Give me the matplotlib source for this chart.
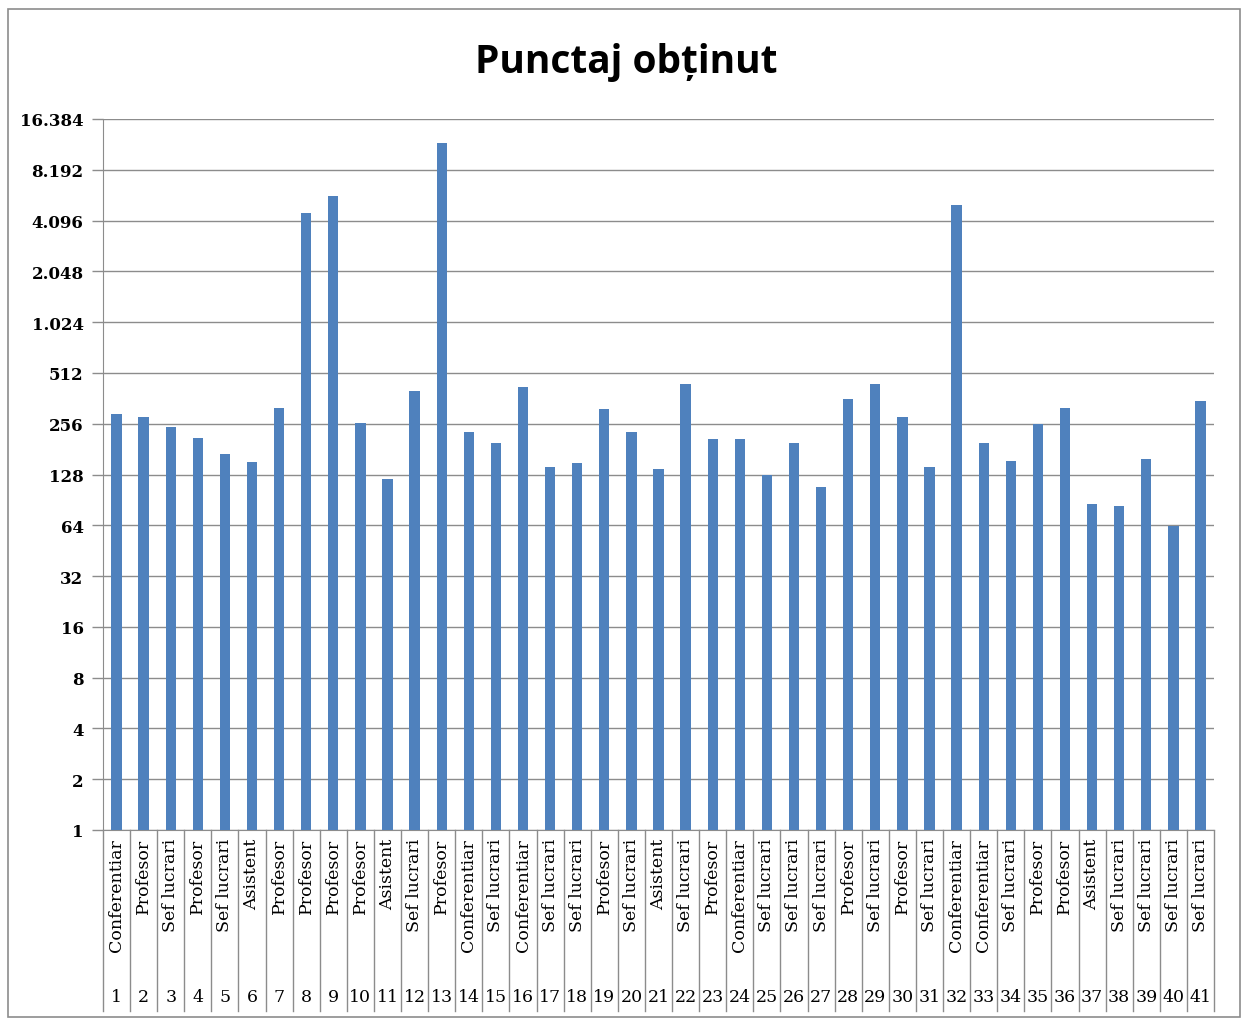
import matplotlib.pyplot as plt
from matplotlib.patches import Rectangle
from matplotlib.ticker import FixedLocator, FuncFormatter, NullLocator
import matplotlib.transforms as mtransforms

titles = ['Conferentiar', 'Profesor', 'Sef lucrari', 'Profesor', 'Sef lucrari',
          'Asistent', 'Profesor', 'Profesor', 'Profesor', 'Profesor',
          'Asistent', 'Sef lucrari', 'Profesor', 'Conferentiar', 'Sef lucrari',
          'Conferentiar', 'Sef lucrari', 'Sef lucrari', 'Profesor', 'Sef lucrari',
          'Asistent', 'Sef lucrari', 'Profesor', 'Conferentiar', 'Sef lucrari',
          'Sef lucrari', 'Sef lucrari', 'Profesor', 'Sef lucrari', 'Profesor',
          'Sef lucrari', 'Conferentiar', 'Conferentiar', 'Sef lucrari', 'Profesor',
          'Profesor', 'Asistent', 'Sef lucrari', 'Sef lucrari', 'Sef lucrari',
          'Sef lucrari']
numbers = list(range(1, 42))
scores = [292, 280, 244, 210, 169, 151, 317, 4540, 5720, 258,
          120, 399, 11760, 228, 197, 422, 142, 149, 313, 228,
          138, 440, 208, 208, 127, 197, 108, 357, 440, 280,
          142, 5050, 197, 154, 254, 317, 85, 83, 158, 63,
          348]
yticks = [1, 2, 4, 8, 16, 32, 64, 128, 256, 512, 1024, 2048, 4096, 8192, 16384]

fig = plt.figure(figsize=(12.42, 10.2), dpi=100)
fig.patches.append(Rectangle((8 / 1242, 2 / 1020), 1232 / 1242, 1008 / 1020,
                             transform=fig.transFigure, fill=False,
                             edgecolor='#8c8c8c', linewidth=1.2))

ax = fig.add_axes([103 / 1242, 189 / 1020, 1111 / 1242, 711 / 1020])
x = list(range(len(scores)))
ax.bar(x, scores, width=0.38, color='#4f81bd', zorder=3)

ax.set_yscale('log', base=2)
ax.set_ylim(1, 16384)
ax.set_xlim(-0.5, len(scores) - 0.5)
ax.yaxis.set_major_locator(FixedLocator(yticks))
ax.yaxis.set_minor_locator(NullLocator())
ax.yaxis.set_major_formatter(FuncFormatter(lambda v, p: f'{int(round(v)):,}'.replace(',', '.')))
ax.grid(axis='y', color='#8c8c8c', linewidth=1, zorder=0)
ax.tick_params(axis='y', length=8, color='#8c8c8c', width=1, pad=6)
for lab in ax.get_yticklabels():
    lab.set_fontfamily('DejaVu Serif')
    lab.set_fontweight('bold')
    lab.set_fontsize(12)
ax.set_xticks([])
for s in ['top', 'right']:
    ax.spines[s].set_visible(False)
ax.spines['left'].set_color('#8c8c8c')
ax.spines['bottom'].set_color('#8c8c8c')

# two-level category axis
trans = mtransforms.blended_transform_factory(ax.transData, ax.transAxes)
depth = -(1012 - 831) / 711
for b in range(len(scores) + 1):
    ax.plot([b - 0.5, b - 0.5], [0, depth], transform=trans, color='#8c8c8c',
            linewidth=1, clip_on=False)
for i, (t, n) in enumerate(zip(titles, numbers)):
    ax.text(i, -8 / 711, t, transform=trans, rotation=90, ha='center', va='top',
            fontsize=12.5, family='DejaVu Serif')
    ax.text(i, -(998 - 831) / 711, str(n), transform=trans, ha='center', va='center',
            fontsize=12.5, family='DejaVu Serif')

fig.text(0.504, 1 - 62 / 1020, 'Punctaj obținut', ha='center', va='center',
         fontsize=28, fontweight='bold', family='Open Sans')

fig.savefig('out.png', dpi=100)
